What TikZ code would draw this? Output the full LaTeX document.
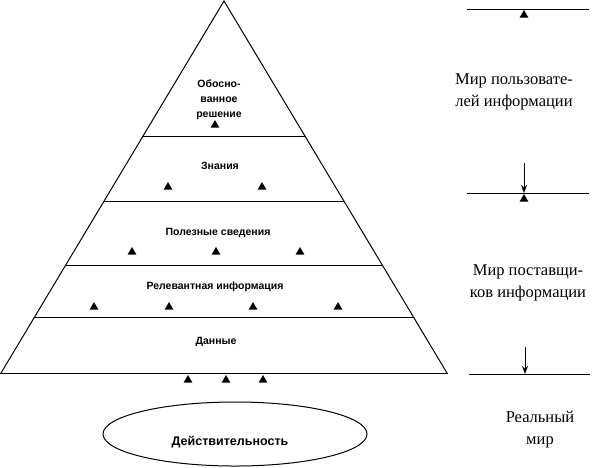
\documentclass[tikz,border=0pt]{standalone}
\usepackage{fontspec}
\setmainfont{Liberation Serif}
\newfontfamily\lvlfont{Liberation Sans}
\usetikzlibrary{calc,shapes.geometric,arrows.meta}
\tikzset{
  tri/.style={regular polygon,regular polygon sides=3,fill,inner sep=0pt,minimum size=10pt},
  lvl/.style={font=\lvlfont\bfseries\fontsize{10.5}{15}\selectfont,align=center,inner sep=0pt},
  world/.style={font=\fontsize{16.5}{22}\selectfont,align=center,inner sep=0pt}
}
\begin{document}
\begin{tikzpicture}[x=1pt,y=-1pt,line width=1pt]
  \useasboundingbox (0,0) rectangle (593,467);
  % pyramid
  \coordinate (apex) at (224,1);
  \coordinate (lb) at (1,373);
  \coordinate (rb) at (447,373);
  \draw (lb) -- (apex) -- (rb);
  \draw (0,373) -- (448,373);
  \draw ($(apex)!0.363!(lb)$) -- ($(apex)!0.363!(rb)$);
  \draw ($(apex)!0.540!(lb)$) -- ($(apex)!0.540!(rb)$);
  \draw ($(apex)!0.710!(lb)$) -- ($(apex)!0.710!(rb)$);
  \draw ($(apex)!0.852!(lb)$) -- ($(apex)!0.852!(rb)$);
  % levels
  \node[lvl] (decision) at (219,100) {Обосно-\\ванное\\решение};
  \node[lvl] (knowledge) at (220,166) {Знания};
  \node[lvl] (useful) at (218,233) {Полезные сведения};
  \node[lvl] (relevant) at (215,287) {Релевантная информация};
  \node[lvl] (data) at (216,342) {Данные};
  % markers
  \node[tri] (t1) at (215,125) {};
  \node[tri] (t2) at (168,187) {};
  \node[tri] (t3) at (262,187) {};
  \node[tri] (t4) at (132,252) {};
  \node[tri] (t5) at (216,252) {};
  \node[tri] (t6) at (300,252) {};
  \node[tri] (t7) at (94,307) {};
  \node[tri] (t8) at (169,307) {};
  \node[tri] (t9) at (253,307) {};
  \node[tri] (t10) at (338,307) {};
  \node[tri] (t11) at (188,380) {};
  \node[tri] (t12) at (226,380) {};
  \node[tri] (t13) at (263,380) {};
  % reality
  \node[draw,ellipse,minimum width=264pt,minimum height=64pt] (real) at (235,434) {};
  \node[font=\lvlfont\bfseries\fontsize{12.5}{15}\selectfont] (realtext) at (230,442) {Действительность};
  % worlds
  \draw (467,9) -- (589,9);
  \node[tri] (r1) at (524,15) {};
  \node[world] (users) at (514,92) {Мир пользовате-\\лей информации};
  \coordinate (a1) at (524,163);
  \coordinate (b1) at (524,193);
  \draw (467,193) -- (589,193);
  \draw[-{Stealth[length=8pt,width=6pt]}] (a1) -- (b1);
  \node[tri] (r2) at (524,199) {};
  \node[world] (suppliers) at (528,283) {Мир поставщи-\\ков информации};
  \coordinate (a2) at (525,347);
  \coordinate (b2) at (525,374);
  \draw (469,374) -- (590,374);
  \draw[-{Stealth[length=8pt,width=6pt]}] (a2) -- (b2);
  \node[world] (realworld) at (540,430) {Реальный\\мир};
\end{tikzpicture}
\end{document}
